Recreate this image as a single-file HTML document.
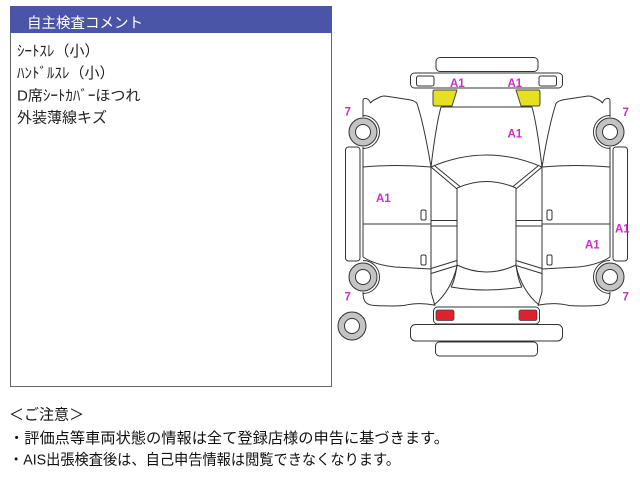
<!DOCTYPE html>
<html><head><meta charset="utf-8"><style>
html,body{margin:0;padding:0;background:#fff;}
svg{display:block;}
text{font-family:"Liberation Sans","Noto Sans CJK JP",sans-serif;}
.l{fill:none;stroke:#333;stroke-width:1;}
.lab{fill:#cc2ccc;font-weight:bold;font-size:11.5px;}
</style></head><body>
<svg width="640" height="480" viewBox="0 0 640 480" xmlns="http://www.w3.org/2000/svg">
<!-- comment box -->
<rect x="10.5" y="6.5" width="321" height="380" fill="#fff" stroke="#666" stroke-width="1"/>
<rect x="10" y="6" width="322" height="27" fill="#4a55a8"/>
<text x="27" y="28" fill="#fff" font-size="14.5" textLength="116" lengthAdjust="spacingAndGlyphs">自主検査コメント</text>
<g fill="#222" font-size="15">
<text x="17" y="56">ｼｰﾄｽﾚ（小）</text>
<text x="17" y="78">ﾊﾝﾄﾞﾙｽﾚ（小）</text>
<text x="17" y="100.5">D席ｼｰﾄｶﾊﾞｰほつれ</text>
<text x="17" y="122.5">外装薄線キズ</text>
</g>
<!-- notes -->
<g fill="#111" font-size="15">
<text x="9" y="419.5">＜ご注意＞</text>
<text x="9" y="443" textLength="440" lengthAdjust="spacingAndGlyphs">・評価点等車両状態の情報は全て登録店様の申告に基づきます。</text>
<text x="9" y="464.5" textLength="391" lengthAdjust="spacingAndGlyphs">・AIS出張検査後は、自己申告情報は閲覧できなくなります。</text>
</g>

<!-- car diagram: symmetric parts -->
<g class="l" stroke-linejoin="round">
<rect x="436" y="57.5" width="102" height="14" rx="4" fill="#fff"/>
<rect x="410.5" y="73" width="152" height="15" rx="4" fill="#fff"/>
<path d="M441,107 L532,107"/>
<path d="M431,167 Q486.5,143 542,167"/>
<path d="M457,188 Q486.5,175 516,188"/>
<path d="M457,265 Q486.5,279 516,265"/>
<path d="M451,287 Q486.5,293 522,287"/>
<rect x="433.5" y="307" width="106" height="17" rx="4" fill="#fff"/>
<rect x="410.5" y="324.5" width="152" height="16.5" rx="5" fill="#fff"/>
<rect x="435.5" y="342" width="102" height="14" rx="4" fill="#fff"/>
</g>

<g id="h" stroke-linejoin="round">
<g class="l">
<path d="M363,117 L363,101 Q363,98 366,98.5 Q369,99 370.5,103 Q372,101 374,100 L380,97 Q382,96 385,96 L408,99.5 Q415,100.5 417,103.5 Q424,125 431,167"/>
<path d="M441,107 Q436,125 431,167"/>
<path d="M363,167 Q397,164 431,167"/>
<path d="M431,167 L457,189"/>
<path d="M435,166 L460,186.5"/>
<path d="M457,188 L457,265"/>
<path d="M431,220.5 L457,220.5"/>
<path d="M431,226 L457,226"/>
<path d="M431,167 L431,292 L435,306"/>
<path d="M363,224 L431,224"/>
<rect x="421" y="210" width="5" height="10" rx="1.5"/>
<rect x="421" y="255" width="5" height="10" rx="1.5"/>
<path d="M363,257 Q375,265 395,267 L431,269"/>
<path d="M431,268.5 L457,260.5"/>
<path d="M431,273.5 L457,265.5"/>
<path d="M457,265 Q455,280 451,287"/>
<path d="M457,266 Q451,291 434,305"/>
<path d="M363,292 C363,302 366,305 375,305.5 Q392,306.5 404,305.5 Q418,302 434,305"/>
<path d="M363,147 L363,257"/>
<rect x="345.5" y="147" width="14.5" height="114" rx="3" fill="#fff"/>
<rect x="416.5" y="76" width="17.5" height="10" rx="2" fill="#fff"/>
<path d="M363,115.5 A16.5,16.5 0 0 1 363,148.5"/>
<path d="M363,260.5 A16.5,16.5 0 0 1 363,293.5"/>
</g>
<path d="M435,90 L457,90 L452,106 L435,106 Q433,106 433,104 L433,92 Q433,90 435,90 Z" fill="#e6e022" stroke="#444" stroke-width="1"/>
<rect x="436" y="310" width="18" height="10.5" rx="2" fill="#e0202c" stroke="#444" stroke-width="0.8"/>
<circle cx="363" cy="132" r="14" fill="#c4c4c4" stroke="#333" stroke-width="1"/>
<circle cx="363" cy="132" r="7.5" fill="#fff" stroke="#333" stroke-width="1"/>
<circle cx="363" cy="277" r="14" fill="#c4c4c4" stroke="#333" stroke-width="1"/>
<circle cx="363" cy="277" r="7.5" fill="#fff" stroke="#333" stroke-width="1"/>
</g>
<use href="#h" transform="matrix(-1,0,0,1,973,0)"/>

<!-- spare wheel -->
<circle cx="352" cy="326" r="14" fill="#c4c4c4" stroke="#333" stroke-width="1"/>
<circle cx="352" cy="326" r="7.5" fill="#fff" stroke="#333" stroke-width="1"/>

<!-- labels -->
<g class="lab">
<text x="450" y="87">A1</text>
<text x="507.5" y="87">A1</text>
<text x="507.5" y="137.5">A1</text>
<text x="376" y="202">A1</text>
<text x="585" y="248.5">A1</text>
<text x="615" y="232.5">A1</text>
<text x="344.5" y="115.5">7</text>
<text x="622.5" y="116">7</text>
<text x="344.5" y="300.5">7</text>
<text x="622.5" y="300.5">7</text>
</g>
</svg>
</body></html>
